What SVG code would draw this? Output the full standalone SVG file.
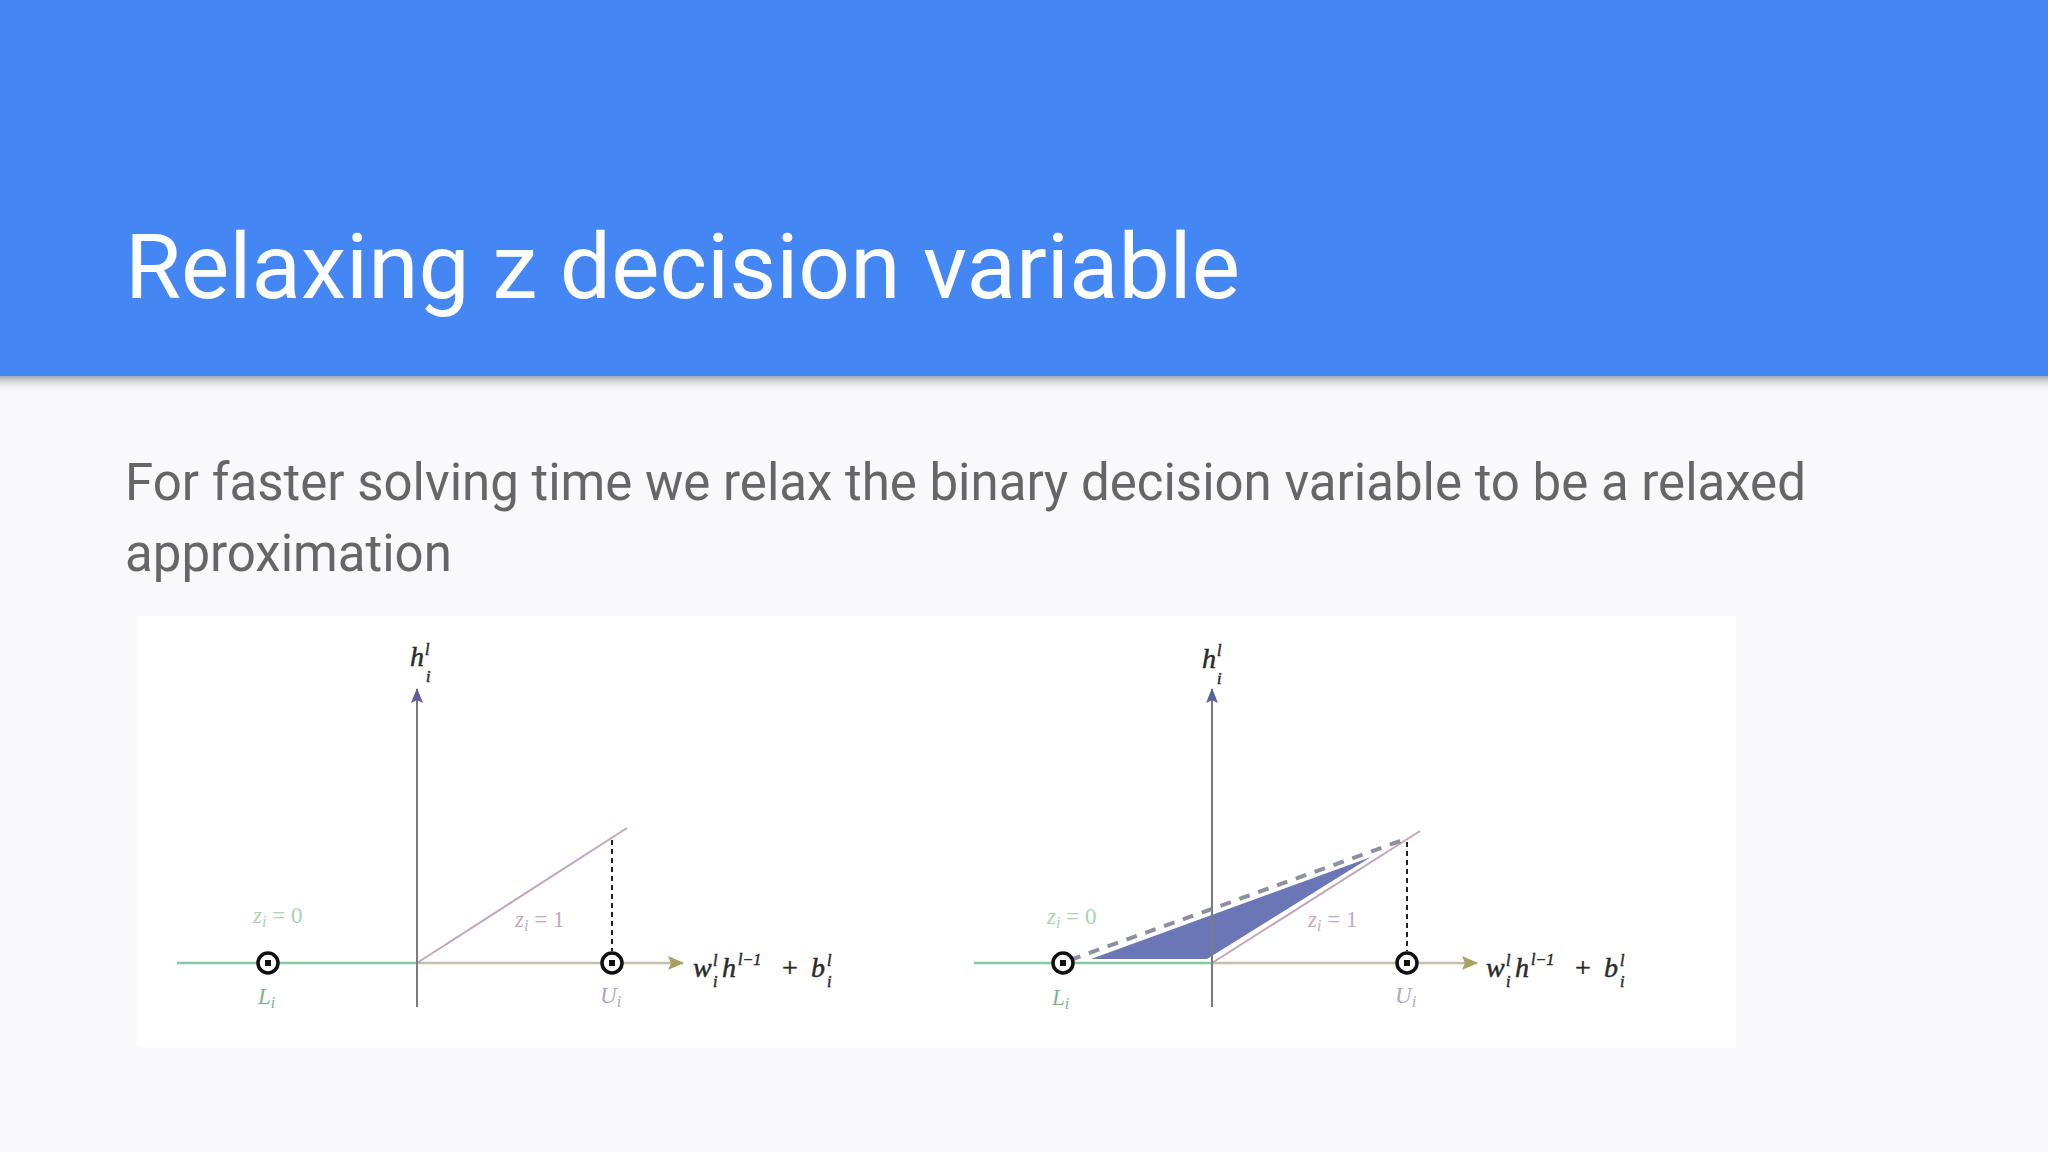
<svg xmlns="http://www.w3.org/2000/svg" width="2048" height="1152" viewBox="0 0 2048 1152">
<defs>
<linearGradient id="shadow" x1="0" y1="0" x2="0" y2="1">
<stop offset="0" stop-color="#9aa0a8" stop-opacity="0.9"/>
<stop offset="1" stop-color="#f9f9fb" stop-opacity="0"/>
</linearGradient>
<marker id="arrY" viewBox="0 0 15 12" refX="14" refY="6" markerWidth="15" markerHeight="12" markerUnits="userSpaceOnUse" orient="auto">
<path d="M15 6 L0 0 L3 6 L0 12 Z" fill="#5b5f9a"/>
</marker>
<marker id="arrX" viewBox="0 0 16 14" refX="15" refY="7" markerWidth="16" markerHeight="14" markerUnits="userSpaceOnUse" orient="auto">
<path d="M16 7 L0 0 L3 7 L0 14 Z" fill="#a8a262"/>
</marker>
<style>
.title{font-family:Roboto,"Liberation Sans",sans-serif;font-size:91px;fill:#ffffff}
.body{font-family:Roboto,"Liberation Sans",sans-serif;font-size:51px;fill:#666666}
.m{font-family:"Liberation Serif",serif;font-style:italic}
.up{font-style:normal}
.ax{stroke:#7a7a80;stroke-width:2;fill:none}
.green{stroke:#86c8a0;stroke-width:2.5;fill:none}
.tan{stroke:#c4bfa6;stroke-width:2.5;fill:none}
.diag{stroke:#c2a6bd;stroke-width:2;fill:none}
.vdash{stroke:#222;stroke-width:2;stroke-dasharray:5 4;fill:none}
.pt{fill:#fff;stroke:#111;stroke-width:3.5}
.dot{fill:#111}
.lab{fill:#2a2a2a;font-size:28px;stroke:#2a2a2a;stroke-width:0.5}
.zg{fill:#a9d3b0;font-size:23px}
.zp{fill:#c3a9bf;font-size:23px}
.lg{fill:#7fb58c;font-size:23px}
.up2{fill:#b3a3c6;font-size:23px}
.s{font-size:16px}
</style>
</defs>
<rect width="2048" height="1152" fill="#f9f9fb"/>
<rect width="2048" height="376" fill="#4486f4"/>
<rect y="376" width="2048" height="16" fill="url(#shadow)"/>
<text class="title" x="125" y="298">Relaxing z decision variable</text>
<text class="body" x="125" y="500">For faster solving time we relax the binary decision variable to be a relaxed</text>
<text class="body" x="125" y="571">approximation</text>
<rect x="137" y="616" width="1599" height="431" fill="#ffffff"/>

<g id="connectors">
<line class="green" x1="177" y1="963" x2="417" y2="963"/>
<line class="tan" x1="417" y1="963" x2="683" y2="963" marker-end="url(#arrX)"/>
<line class="diag" x1="417" y1="963" x2="627" y2="828"/>
<line class="ax" x1="417" y1="1007" x2="417" y2="689" marker-end="url(#arrY)"/>
<line class="vdash" x1="612" y1="840" x2="612" y2="951"/>

<polygon points="1091,959 1207,959 1371,857" fill="#6b76b6"/>
<line class="green" x1="974" y1="963" x2="1212" y2="963"/>
<line class="tan" x1="1212" y1="963" x2="1477" y2="963" marker-end="url(#arrX)"/>
<line class="diag" x1="1212" y1="963" x2="1420" y2="831"/>
<line x1="1070" y1="960" x2="1403" y2="840" stroke="#8d909e" stroke-width="4" stroke-dasharray="11 9"/>
<line class="ax" x1="1212" y1="1007" x2="1212" y2="689" marker-end="url(#arrY)"/>
<line class="vdash" x1="1407" y1="842" x2="1407" y2="951"/>
</g>

<g id="plot-left">
<g id="L-left"><circle class="pt" cx="268" cy="963" r="10"/><rect class="dot" x="265" y="960" width="6" height="6"/></g>
<g id="U-left"><circle class="pt" cx="612" cy="963" r="10"/><rect class="dot" x="609" y="960" width="6" height="6"/></g>
<text class="m lab" x="410" y="666">h</text>
<text class="m lab s" x="425" y="655">l</text>
<text class="m lab s" x="426" y="682">i</text>
<text class="m zg" x="253" y="923">z<tspan class="s" dy="4">i</tspan><tspan class="up" dy="-4"> = 0</tspan></text>
<text class="m zp" x="515" y="927">z<tspan class="s" dy="4">i</tspan><tspan class="up" dy="-4"> = 1</tspan></text>
<text class="m lg" x="258" y="1004">L<tspan class="s" dy="4">i</tspan></text>
<text class="m up2" x="600" y="1003">U<tspan class="s" dy="4">i</tspan></text>
<g class="m lab">
<text x="693" y="977">w</text>
<text class="s" x="713" y="966">l</text>
<text class="s" x="713" y="987">i</text>
<text x="722" y="977">h</text>
<text class="s" x="738" y="965">l−1</text>
<text class="up" x="782" y="977">+</text>
<text x="811" y="977">b</text>
<text class="s" x="827" y="966">l</text>
<text class="s" x="827" y="987">i</text>
</g>
</g>

<g id="plot-right">
<g id="L-right"><circle class="pt" cx="1063" cy="963" r="10"/><rect class="dot" x="1060" y="960" width="6" height="6"/></g>
<g id="U-right"><circle class="pt" cx="1407" cy="963" r="10"/><rect class="dot" x="1404" y="960" width="6" height="6"/></g>
<text class="m lab" x="1202" y="668">h</text>
<text class="m lab s" x="1217" y="656">l</text>
<text class="m lab s" x="1217" y="684">i</text>
<text class="m zg" x="1047" y="924">z<tspan class="s" dy="4">i</tspan><tspan class="up" dy="-4"> = 0</tspan></text>
<text class="m zp" x="1308" y="927">z<tspan class="s" dy="4">i</tspan><tspan class="up" dy="-4"> = 1</tspan></text>
<text class="m lg" x="1052" y="1005">L<tspan class="s" dy="4">i</tspan></text>
<text class="m up2" x="1395" y="1003">U<tspan class="s" dy="4">i</tspan></text>
<g class="m lab">
<text x="1486" y="977">w</text>
<text class="s" x="1506" y="966">l</text>
<text class="s" x="1506" y="987">i</text>
<text x="1515" y="977">h</text>
<text class="s" x="1531" y="965">l−1</text>
<text class="up" x="1575" y="977">+</text>
<text x="1604" y="977">b</text>
<text class="s" x="1620" y="966">l</text>
<text class="s" x="1620" y="987">i</text>
</g>
</g>
</svg>
